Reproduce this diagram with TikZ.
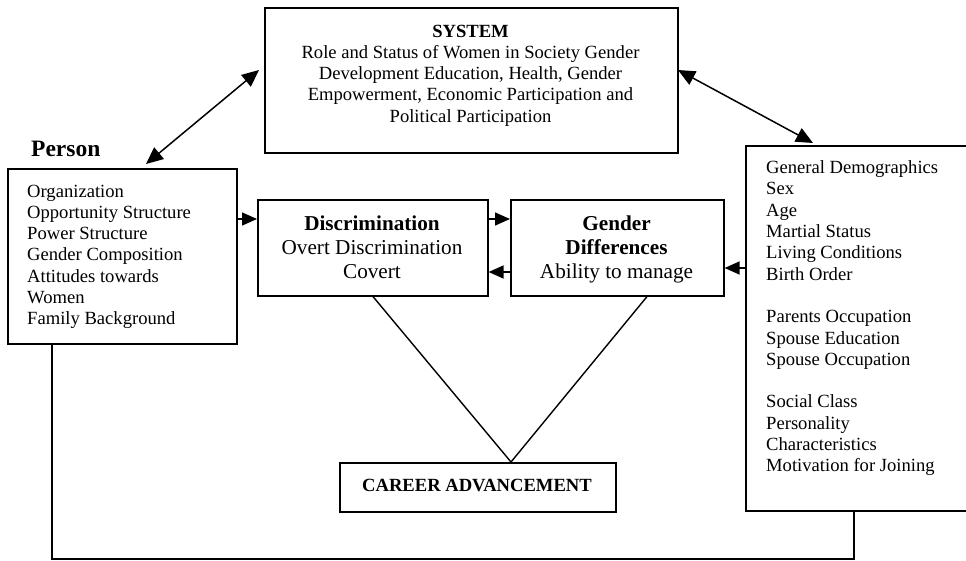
\documentclass[tikz,border=0pt]{standalone}
\usepackage{fontspec}
\setmainfont{Liberation Serif}
\usetikzlibrary{arrows.meta,calc}

\begin{document}
\begin{tikzpicture}[x=1pt,y=-1pt,
  box/.style={draw,line width=1.6pt,rectangle,inner sep=0pt,anchor=north west},
  txt/.style={inner sep=0pt,font=\fontsize{18.6}{21.3}\selectfont},
  bigtxt/.style={inner sep=0pt,align=center,font=\fontsize{21.2}{23.6}\selectfont},
  link/.style={line width=1.4pt},
  arr/.style={line width=1.5pt,-{Triangle[length=15pt,width=13pt]}},
  darr/.style={line width=1.5pt,{Triangle[length=17pt,width=15pt]}-{Triangle[length=17pt,width=15pt]}}
]
\useasboundingbox (0,0) rectangle (966,561);

% boxes
\node[box,minimum width=413pt,minimum height=145pt] (system) at (264,7) {};
\node[box,minimum width=229pt,minimum height=175pt] (person) at (7,168) {};
\node[box,minimum width=230pt,minimum height=96pt] (discr) at (257,199) {};
\node[box,minimum width=213pt,minimum height=96pt] (gender) at (510,199) {};
\node[box,minimum width=276pt,minimum height=49pt] (career) at (339,462) {};
\node[box,minimum width=225pt,minimum height=365pt] (demo) at (745,145) {};

% texts
\node[txt,align=center,anchor=north] (systemtext) at (470.5,24.5)
  {\textbf{SYSTEM}\\
   Role and Status of Women in Society Gender\\
   Development Education, Health, Gender\\
   Empowerment, Economic Participation and\\
   Political Participation};

\node[inner sep=0pt,anchor=base west,font=\fontsize{23.5}{26}\selectfont\bfseries] (personlabel) at (31,157) {Person};

\node[txt,align=left,anchor=north west] (persontext) at (27,184.5)
  {Organization\\
   Opportunity Structure\\
   Power Structure\\
   Gender Composition\\
   Attitudes towards\\
   Women\\
   Family Background};

\node[bigtxt,anchor=north] (discrtext) at (372,216)
  {\textbf{Discrimination}\\
   Overt Discrimination\\
   Covert};

\node[bigtxt,anchor=north] (gendertext) at (616.5,216)
  {\textbf{Gender}\\
   \textbf{Differences}\\
   Ability to manage};

\node[txt,anchor=center,font=\fontsize{18.6}{21.3}\selectfont\bfseries] (careertext) at (477,485.5) {CAREER ADVANCEMENT};

\node[txt,align=left,anchor=north west] (demotext) at (766,160.5)
  {General Demographics\\
   Sex\\
   Age\\
   Martial Status\\
   Living Conditions\\
   Birth Order\\[21.3pt]
   Parents Occupation\\
   Spouse Education\\
   Spouse Occupation\\[21.3pt]
   Social Class\\
   Personality\\
   Characteristics\\
   Motivation for Joining};

% arrow ends and corner points
\coordinate (pTip) at (146,164);
\coordinate (sTipL) at (259,70);
\coordinate (sTipR) at (678,70);
\coordinate (dTip) at (813,143);
\coordinate (apex) at (511,462);
\coordinate (loopL) at (52,559);
\coordinate (loopR) at (854,559);

% two-way links to the system
\draw[darr] (pTip) -- (sTipL);
\draw[darr] (sTipR) -- (dTip);

% horizontal arrows
\draw[arr] (person.east |- 0,219) -- (discr.west |- 0,219);
\draw[arr] (discr.east |- 0,219) -- (gender.west |- 0,219);
\draw[arr] (gender.west |- 0,272) -- (discr.east |- 0,272);
\draw[arr] (demo.west |- 0,268) -- (gender.east |- 0,268);

% lines to career advancement
\draw[link] (discr.south -| 373,0) -- (apex) -- (gender.south -| 647,0);

% bottom loop
\draw[line width=1.6pt] (loopL |- person.south) -- (loopL) -- (loopR) -- (loopR |- demo.south);

\end{tikzpicture}
\end{document}
